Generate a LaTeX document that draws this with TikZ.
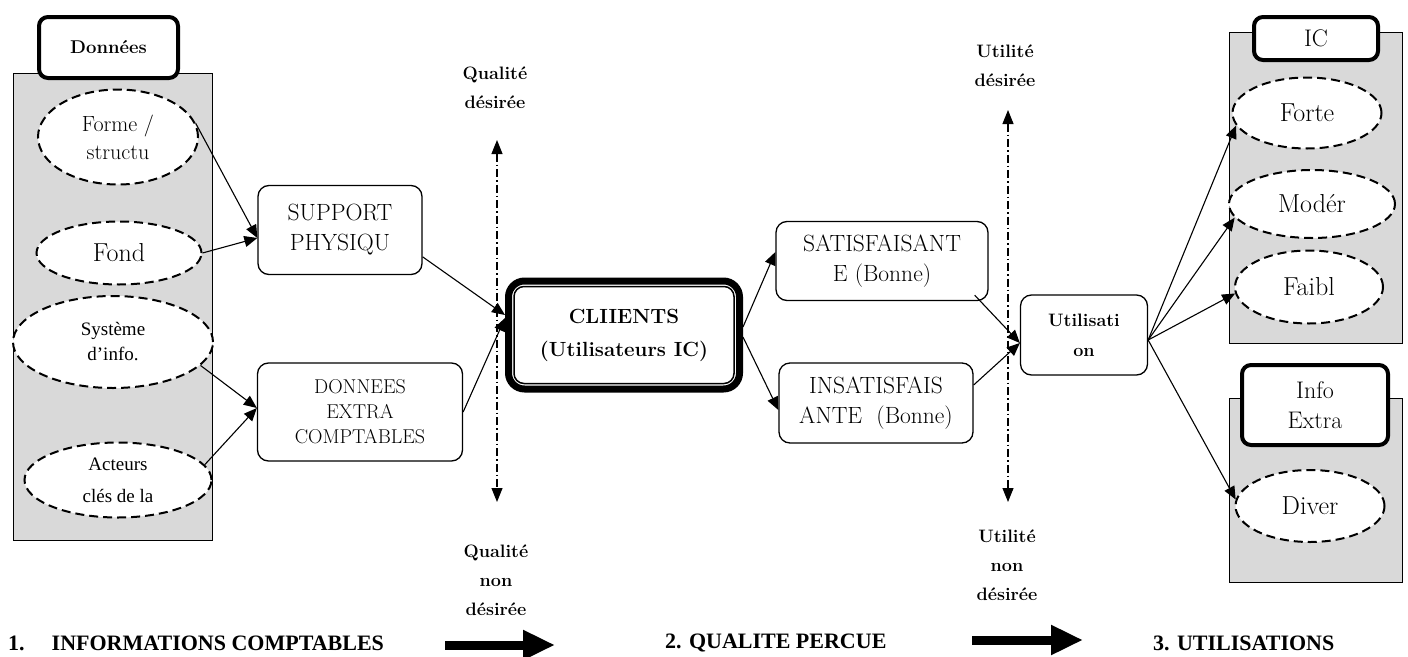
\documentclass[tikz,border=0pt]{standalone}
\usepackage{fontspec}
\newfontfamily\tms{Liberation Serif}
\usetikzlibrary{positioning,shapes.geometric,arrows.meta}
\definecolor{fondgris}{RGB}{217,217,217}

\tikzset{
  bloc/.style={draw, line width=1pt, fill=fondgris, inner sep=0pt},
  titre/.style={draw, line width=4pt, rounded corners=9pt, fill=white, inner sep=0pt, align=center, font=\bfseries\fontsize{18.5}{24}\selectfont},
  ovale/.style={ellipse, draw, dash pattern=on 9pt off 5pt, line width=2pt, fill=white, inner sep=0pt, align=center},
  boite/.style={draw, line width=1.3pt, rounded corners=11pt, fill=white, inner sep=0pt, align=center, font=\fontsize{23.5}{30}\selectfont},
  fleche/.style={-{Triangle[length=13pt,width=11pt]}, line width=1.1pt},
  axe/.style={{Triangle[length=14pt,width=11pt]}-{Triangle[length=14pt,width=11pt]}, line width=1.1pt, dash pattern=on 8pt off 3pt on 1.5pt off 3pt},
  grosse/.style={-{Triangle[length=32pt,width=28pt]}, line width=9pt},
  etiq/.style={font=\bfseries\fontsize{18}{29}\selectfont, align=center},
  etape/.style={font=\tms\bfseries\fontsize{22}{26}\selectfont, anchor=west, inner sep=0pt}
}

\begin{document}
\begin{tikzpicture}[x=1pt,y=-1pt]
\useasboundingbox (0,0) rectangle (1408,656);

% colonne de gauche
\node[bloc, minimum width=199pt, minimum height=467pt] (colg) at (112.5,306.5) {};
\node[titre, minimum width=139pt, minimum height=61pt] (donnees) at (108.5,47.5) {Données};

\node[ovale, minimum width=160pt, minimum height=95pt, font=\fontsize{22}{28}\selectfont] (forme) at (118,137) {Forme /\\structu};
\node[ovale, minimum width=165pt, minimum height=63pt, font=\fontsize{26}{28}\selectfont] (fond) at (119,253) {Fond};
\node[ovale, minimum width=200pt, minimum height=92pt, font=\tms\fontsize{19}{25}\selectfont] (sys) at (113,342) {Système\\d’info.};
\node[ovale, minimum width=187pt, minimum height=75pt, font=\tms\fontsize{19}{32}\selectfont] (act) at (118,480) {Acteurs\\clés de la};

% supports
\node[boite, minimum width=164pt, minimum height=89pt] (support) at (340,230) {SUPPORT\\PHYSIQU};
\node[boite, minimum width=205pt, minimum height=98pt, font=\fontsize{20}{25}\selectfont] (extra) at (360,412) {DONNEES\\EXTRA\\COMPTABLES};

% clients
\node[boite, line width=7pt, rounded corners=16pt, minimum width=231pt, minimum height=108pt, font=\bfseries\fontsize{20.5}{33}\selectfont] (clients) at (624,335) {CLIIENTS\\(Utilisateurs IC)};
\draw[line width=1.5pt, rounded corners=10pt] ([shift={(9pt,9pt)}]clients.south west) rectangle ([shift={(-9pt,-9pt)}]clients.north east);

% qualite
\node[boite, minimum width=212pt, minimum height=79pt] (satis) at (882,261) {SATISFAISANT\\E (Bonne)};
\node[boite, minimum width=194pt, minimum height=80pt] (insatis) at (876,403) {INSATISFAIS\\ANTE\ \ (Bonne)};
\node[boite, minimum width=127pt, minimum height=80pt, font=\bfseries\fontsize{18}{30}\selectfont] (usage) at (1084,335) {Utilisati\\on};

% colonne de droite
\node[bloc, minimum width=173pt, minimum height=311pt] (coldh) at (1315.5,187.5) {};
\node[bloc, minimum width=173pt, minimum height=184pt] (coldb) at (1315.5,490) {};
\node[titre, minimum width=124pt, minimum height=43pt, font=\fontsize{24}{26}\selectfont] (ic) at (1316,38.5) {IC};
\node[titre, minimum width=146pt, minimum height=80pt, font=\fontsize{24}{30}\selectfont] (info) at (1315,405) {Info\\Extra};

\node[ovale, minimum width=149pt, minimum height=71pt, font=\fontsize{26}{28}\selectfont] (forte) at (1307,113) {Forte};
\node[ovale, minimum width=166pt, minimum height=68pt, font=\fontsize{26}{28}\selectfont] (moder) at (1312,204) {Modér};
\node[ovale, minimum width=148pt, minimum height=73pt, font=\fontsize{26}{28}\selectfont] (faibl) at (1309,287) {Faibl};
\node[ovale, minimum width=149pt, minimum height=72pt, font=\fontsize{26}{28}\selectfont] (diver) at (1310,506) {Diver};

% axes
\node[etiq] (qd) at (495,88) {Qualité\\désirée};
\node[etiq] (qnd) at (496,580) {Qualité\\non\\désirée};
\node[etiq] (ud) at (1005,66) {Utilité\\désirée};
\node[etiq] (und) at (1007,565) {Utilité\\non\\désirée};
\coordinate (qh) at (497,140);
\coordinate (qb) at (497,502);
\coordinate (uh) at (1008,110);
\coordinate (ub) at (1008,502);
\draw[axe] (qh) -- (qb);
\draw[axe] (uh) -- (ub);

% fleches
\draw[fleche] (forme.10) -- ([yshift=-8pt]support.west);
\draw[fleche] (fond.east) -- ([yshift=-8pt]support.west);
\draw[fleche] (sys.-15) -- ([yshift=4pt]extra.west);
\draw[fleche] (act.10) -- ([yshift=4pt]extra.west);
\draw[fleche] (support.-18) -- ([yshift=20pt]clients.west);
\draw[fleche] (extra.east) -- ([yshift=17pt]clients.west);
\draw[fleche] ([yshift=8pt]clients.east) -- ([yshift=9pt]satis.west);
\draw[fleche] ([yshift=-2pt]clients.east) -- ([yshift=-7pt]insatis.west);
\draw[fleche] ([xshift=-14pt,yshift=6pt]satis.south east) -- ([yshift=-8pt]usage.west);
\draw[fleche] ([yshift=18pt]insatis.east) -- ([yshift=-8pt]usage.west);
\draw[fleche] ([yshift=-5pt]usage.east) -- (forte.190);
\draw[fleche] ([yshift=-5pt]usage.east) -- (moder.190);
\draw[fleche] ([yshift=-5pt]usage.east) -- (faibl.185);
\draw[fleche] ([yshift=-5pt]usage.east) -- (diver.175);

% etapes
\node[etape] (e1) at (8,643) {1.\hspace{27pt}INFORMATIONS COMPTABLES};
\node[etape] (e2) at (665,643) {2. QUALITE PERCUE};
\node[etape] (e3) at (1153,643) {3. UTILISATIONS};
\coordinate (f1a) at (445,645);
\coordinate (f1b) at (555,645);
\coordinate (f2a) at (972,640);
\coordinate (f2b) at (1083,640);
\draw[grosse] (f1a) -- (f1b);
\draw[grosse] (f2a) -- (f2b);
\end{tikzpicture}
\end{document}
